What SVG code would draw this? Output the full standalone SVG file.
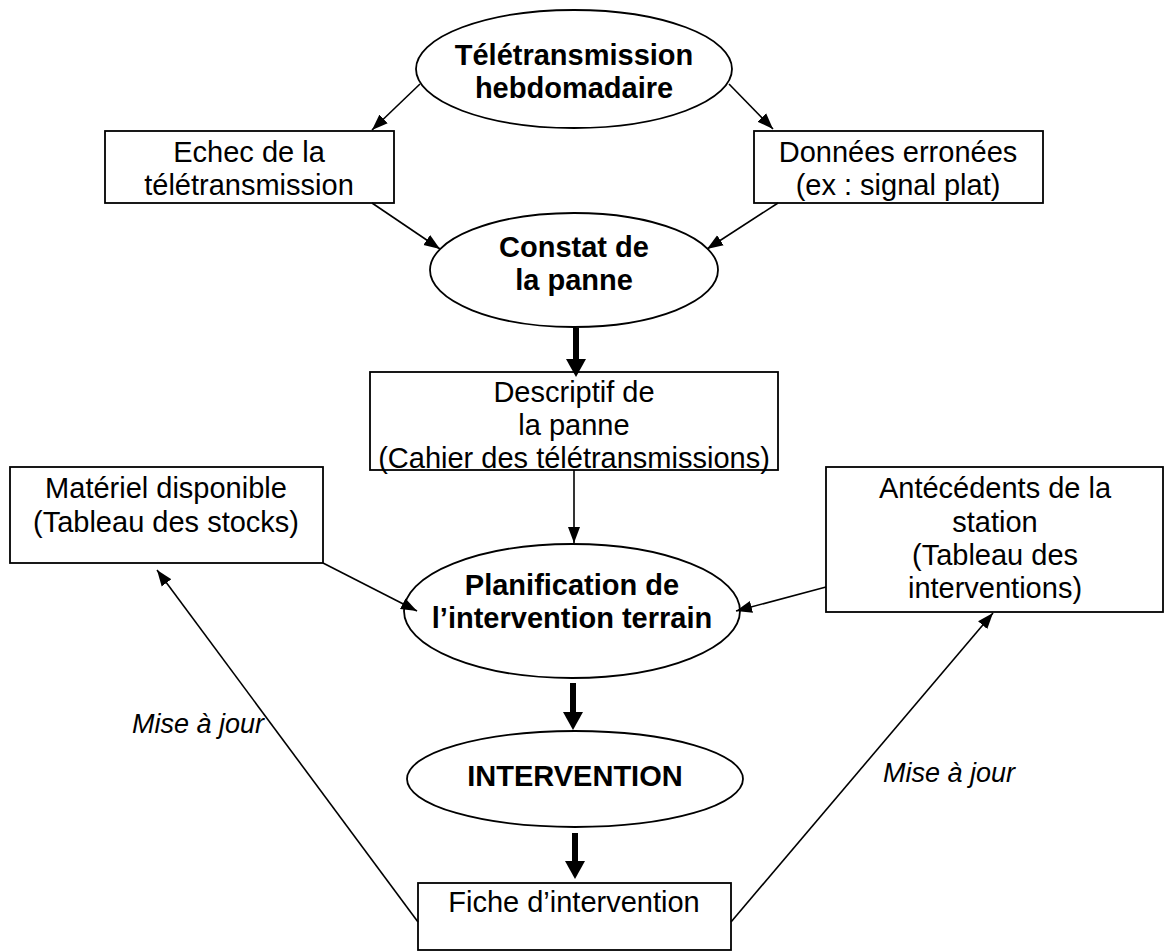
<svg xmlns="http://www.w3.org/2000/svg" width="1165" height="952" viewBox="0 0 1165 952">
<style>
.shape{fill:#fff;stroke:#000;stroke-width:1.8}
.t{font-family:"Liberation Sans",Arial,sans-serif;font-size:29px;fill:#000;text-anchor:middle}
.b{font-weight:bold}
.i{font-style:italic;font-size:27px;text-anchor:start}
.thin{stroke:#000;stroke-width:1.6;fill:none;marker-end:url(#ah)}
.thick{stroke:#000;stroke-width:6;fill:none;marker-end:url(#ahb)}
</style>
<defs>
<marker id="ah" markerUnits="userSpaceOnUse" markerWidth="17" markerHeight="13" refX="16" refY="6.5" orient="auto">
<path d="M0,0.5 L16,6.5 L0,12.5 z" fill="#000"/>
</marker>
<marker id="ahb" markerUnits="userSpaceOnUse" markerWidth="20" markerHeight="22" refX="0" refY="11" orient="auto">
<path d="M0,1 L18,11 L0,21 z" fill="#000"/>
</marker>
</defs>
<rect width="1165" height="952" fill="#fff"/>

<g id="n-teletransmission">
<ellipse class="shape" cx="574" cy="69" rx="158" ry="59"/>
<text class="t b" x="574" y="65">Télétransmission</text>
<text class="t b" x="574" y="98">hebdomadaire</text>
</g>

<g id="n-echec">
<rect class="shape" x="105" y="131" width="289" height="72"/>
<text class="t" x="249" y="162">Echec de la</text>
<text class="t" x="249" y="195">télétransmission</text>
</g>

<g id="n-donnees">
<rect class="shape" x="754" y="131" width="289" height="72"/>
<text class="t" x="898" y="162">Données erronées</text>
<text class="t" x="898" y="195">(ex : signal plat)</text>
</g>

<g id="n-constat">
<ellipse class="shape" cx="574" cy="270" rx="144" ry="57"/>
<text class="t b" x="574" y="257">Constat de</text>
<text class="t b" x="574" y="290">la panne</text>
</g>

<g id="n-descriptif">
<rect class="shape" x="370" y="372" width="408" height="98"/>
<text class="t" x="574" y="402">Descriptif de</text>
<text class="t" x="574" y="435">la panne</text>
<text class="t" x="574" y="468">(Cahier des télétransmissions)</text>
</g>

<g id="n-materiel">
<rect class="shape" x="10" y="467" width="313" height="96"/>
<text class="t" x="166" y="498">Matériel disponible</text>
<text class="t" x="166" y="532">(Tableau des stocks)</text>
</g>

<g id="n-antecedents">
<rect class="shape" x="826" y="467" width="337" height="145"/>
<text class="t" x="995" y="498">Antécédents de la</text>
<text class="t" x="995" y="532">station</text>
<text class="t" x="995" y="565">(Tableau des</text>
<text class="t" x="995" y="598">interventions)</text>
</g>

<g id="n-planification">
<ellipse class="shape" cx="572" cy="611" rx="168" ry="67"/>
<text class="t b" x="572" y="595">Planification de</text>
<text class="t b" x="572" y="628">l’intervention terrain</text>
</g>

<g id="n-intervention">
<ellipse class="shape" cx="575" cy="779" rx="168" ry="48"/>
<text class="t b" x="575" y="786">INTERVENTION</text>
</g>

<g id="n-fiche">
<rect class="shape" x="418" y="883" width="313" height="67"/>
<text class="t" x="574" y="912">Fiche d’intervention</text>
</g>

<g id="connectors">
<line class="thin" x1="420" y1="84" x2="372" y2="130"/>
<line class="thin" x1="729" y1="84" x2="773" y2="129"/>
<line class="thin" x1="372" y1="203" x2="440" y2="249"/>
<line class="thin" x1="778" y1="203" x2="707" y2="249"/>
<line class="thick" x1="576" y1="328" x2="576" y2="359"/>
<line class="thin" x1="574" y1="470" x2="574" y2="543"/>
<line class="thin" x1="323" y1="563" x2="417" y2="611"/>
<line class="thin" x1="826" y1="587" x2="736" y2="611"/>
<line class="thick" x1="573" y1="683" x2="573" y2="712"/>
<line class="thick" x1="575" y1="833" x2="575" y2="861"/>
<line class="thin" x1="418" y1="922" x2="157" y2="570"/>
<line class="thin" x1="731" y1="922" x2="993" y2="613"/>
<text class="t i" x="132" y="733">Mise à jour</text>
<text class="t i" x="883" y="782">Mise à jour</text>
</g>
</svg>
